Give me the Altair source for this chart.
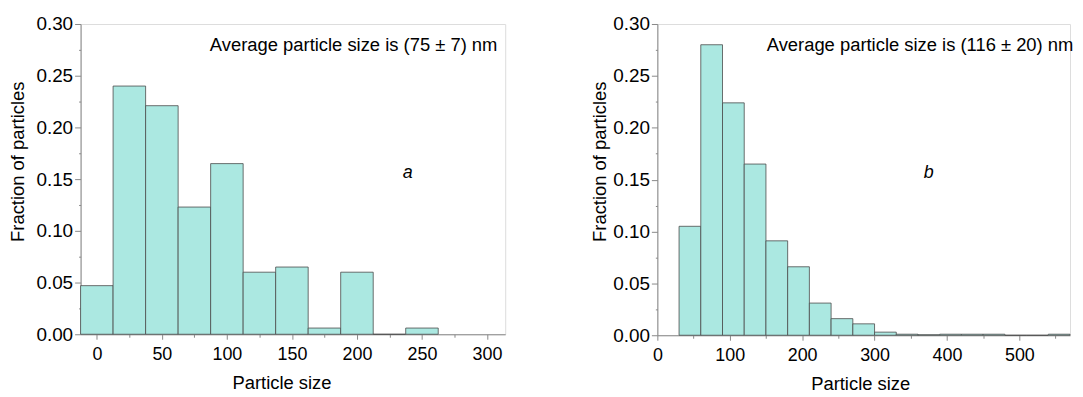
import altair as alt
import pandas as pd

# ---- data ----
left_centers = [0, 25, 50, 75, 100, 125, 150, 175, 200, 225, 250]
left_fraction = [0.047, 0.240, 0.221, 0.123, 0.165, 0.060, 0.065, 0.006, 0.060, 0.0, 0.006]
left_bin_width = 25

right_starts = [30, 60, 90, 120, 150, 180, 210, 240, 270, 300, 330, 360, 390, 420, 450, 480, 510, 540]
right_fraction = [0.105, 0.280, 0.224, 0.165, 0.091, 0.066, 0.031, 0.016, 0.011, 0.003,
                  0.001, 0.0005, 0.001, 0.001, 0.001, 0.0, 0.0, 0.001]
right_bin_width = 30

annotations = ["Average particle size is (75 ± 7) nm", "Average particle size is (116 ± 20) nm"]
panel_letters = ["a", "b"]
x_title = "Particle size"
y_title = "Fraction of particles"

FONT = "Liberation Sans"
FILL = "#ABE8E1"
STROKE = "#4a4a4a"

left_df = pd.DataFrame({
    "x0": [c - left_bin_width / 2 for c in left_centers],
    "x1": [c + left_bin_width / 2 for c in left_centers],
    "frac": left_fraction,
})
right_df = pd.DataFrame({
    "x0": right_starts,
    "x1": [s + right_bin_width for s in right_starts],
    "frac": right_fraction,
})

y_values = [round(i * 0.025, 3) for i in range(13)]


def y_axis(title_pad):
    return alt.Axis(
        title=y_title,
        values=y_values,
        labelExpr="round(datum.value*1000) % 50 == 0 ? format(datum.value, '.2f') : ''",
        tickSize={"condition": {"test": "round(datum.value*1000) % 50 == 0", "value": 6}, "value": 2},
        labelPadding=2,
        labelFontSize=19,
        titleFontSize=18.5,
        titleFontWeight="normal",
        titlePadding=title_pad,
        titleY=138,
        grid=False,
    )


def x_axis(step, major, maxv, tx):
    return alt.Axis(
        title=x_title,
        values=list(range(0, maxv + 1, step)),
        labelExpr=f"datum.value % {major} == 0 ? datum.value : ''",
        tickSize={"condition": {"test": f"datum.value % {major} == 0", "value": 5}, "value": 3},
        labelPadding=6,
        labelFontSize=18,
        titleFontSize=18.5,
        titleFontWeight="normal",
        titlePadding=11,
        titleX=tx,
        grid=False,
        labelFlush=False,
    )


def panel(df, xdom, xax, annot, letter, ann_x, letter_x, w, h, ypad):
    bars = alt.Chart(df).mark_rect(fill=FILL, stroke=STROKE, strokeWidth=0.8).encode(
        x=alt.X("x0:Q", scale=alt.Scale(domain=xdom, nice=False, zero=False), axis=xax),
        x2="x1:Q",
        y=alt.Y("frac:Q", scale=alt.Scale(domain=[0, 0.30], nice=False), axis=y_axis(ypad)),
        y2=alt.datum(0),
    )
    ann = alt.Chart(pd.DataFrame({"t": [annot]})).mark_text(
        align="left", baseline="middle", font=FONT, fontSize=18.5, color="black"
    ).encode(text="t:N", x=alt.value(ann_x), y=alt.value(21))
    let = alt.Chart(pd.DataFrame({"t": [letter]})).mark_text(
        align="center", baseline="middle", font=FONT, fontSize=18, fontStyle="italic", color="black"
    ).encode(text="t:N", x=alt.value(letter_x), y=alt.value(150))
    return alt.layer(bars, ann, let).properties(width=w, height=h)


left = panel(left_df, [-12.5, 314], x_axis(25, 50, 300, 202), annotations[0], panel_letters[0],
             130, 329, 427, 312, 8)
right = panel(right_df, [0, 570], x_axis(50, 100, 550, 204), annotations[1], panel_letters[1],
              110, 273, 415, 313, 3)

chart = alt.hconcat(left, right, spacing=84).properties(
    padding={"left": 0, "top": 5, "right": 0, "bottom": 0}
).configure_view(stroke=None).configure_axis(
    domainColor="black", domainWidth=2, tickColor="black", tickWidth=1.5,
    labelColor="black", titleColor="black", labelFont=FONT, titleFont=FONT,
).configure(background="white")

chart.save("out.html", embed_options={"renderer": "svg", "actions": False})
